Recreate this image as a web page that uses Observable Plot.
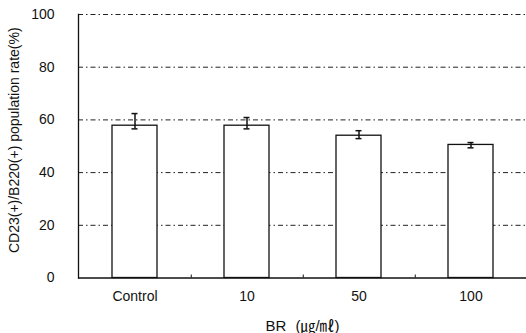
<!DOCTYPE html>
<html>
<head>
<meta charset="utf-8">
<script src="https://cdn.jsdelivr.net/npm/d3@7"></script>
<script src="https://cdn.jsdelivr.net/npm/@observablehq/plot@0.6"></script>
<style>
  html, body { margin: 0; padding: 0; background: #fff; }
  g[aria-label="x-axis label"] text { font-size: 15px; word-spacing: 5px; }
</style>
</head>
<body>
<div id="chart"></div>
<script>
const categories = ["Control", "10", "50", "100"];
const means = [57.8, 57.8, 54.0, 50.5];
const errUpper = [62.4, 60.9, 55.9, 51.4];
const errLower = [56.6, 56.6, 52.9, 49.4];
const yTicks = [0, 20, 40, 60, 80, 100];
const gridTicks = [20, 40, 60, 80, 100];
const xLabel = "BR (㎍/㎖)";
const yLabel = "CD23(+)/B220(+) population rate(%)";

const data = categories.map((c, i) => ({cat: c, mean: means[i], hi: errUpper[i], lo: errLower[i]}));

const chart = Plot.plot({
  width: 526,
  height: 333,
  marginLeft: 78,
  marginRight: 0,
  marginTop: 14,
  marginBottom: 55.5,
  style: {fontFamily: "'Liberation Sans', Arial, 'Noto Sans CJK KR', sans-serif", fontSize: "14px", color: "#111", background: "#fff"},
  x: {type: "band", domain: categories, range: [77.5, 527.5], paddingInner: 0.6, paddingOuter: 0.3, align: 0.5},
  y: {domain: [0, 100]},
  marks: [
    Plot.ruleY(gridTicks, {stroke: "#222", strokeWidth: 1, strokeDasharray: "5,3,1.5,3"}),
    Plot.barY(data, {x: "cat", y: "mean", fill: "#fff", stroke: "#111", strokeWidth: 1.3}),
    Plot.ruleX(data, {x: "cat", y1: "lo", y2: "hi", stroke: "#111", strokeWidth: 1.5}),
    Plot.tickY(data, {x: "cat", y: "hi", stroke: "#111", strokeWidth: 1.5, insetLeft: 19.5, insetRight: 19.5}),
    Plot.tickY(data, {x: "cat", y: "lo", stroke: "#111", strokeWidth: 1.5, insetLeft: 19.5, insetRight: 19.5}),
    Plot.ruleY([0], {stroke: "#111", strokeWidth: 1.3}),
    Plot.frame({anchor: "left", stroke: "#111", strokeWidth: 1.3}),
    Plot.axisX({ticks: categories, tickSize: 0, tickPadding: 13, label: xLabel, labelAnchor: "center", labelArrow: "none", labelOffset: 53, fontSize: 14}),
    Plot.axisX({ticks: categories.slice(0, 3), tickSize: -3, dx: 56.25, text: null, label: null, stroke: "#111"}),
    Plot.axisY({ticks: yTicks, tickSize: 0, tickPadding: 24, label: null, fontSize: 14}),
    Plot.text([yLabel], {frameAnchor: "left", textAnchor: "middle", lineAnchor: "middle", rotate: -90, dx: -64, dy: -6, fontSize: 14, fill: "#111"})
  ]
});
document.getElementById("chart").appendChild(chart);
</script>
</body>
</html>
